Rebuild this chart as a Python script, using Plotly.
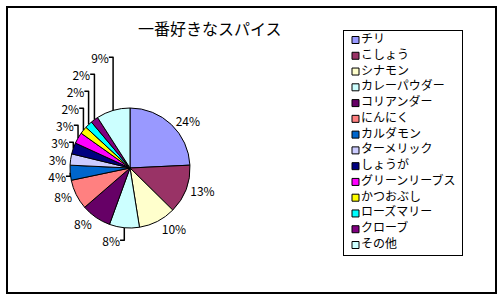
import plotly.graph_objects as go

labels = ["チリ", "こしょう", "シナモン", "カレーパウダー", "コリアンダー", "にんにく",
          "カルダモン", "ターメリック", "しょうが", "グリーンリーブス", "かつおぶし",
          "ローズマリー", "クローブ", "その他"]
values = [24, 13, 10, 8, 8, 8, 4, 3, 3, 3, 2, 2, 2, 9]
colors = ["#9999FF", "#993366", "#FFFFCC", "#CCFFFF", "#660066", "#FF8080",
          "#0066CC", "#CCCCFF", "#000080", "#FF00FF", "#FFFF00", "#00FFFF",
          "#800080", "#CCFFFF"]
title_text = "一番好きなスパイス"

W, H = 503, 300
FONT = "Noto Sans CJK JP"

fig = go.Figure()

fig.add_trace(go.Pie(
    labels=labels, values=values, sort=False, direction="clockwise", rotation=0,
    marker=dict(colors=colors, line=dict(color="black", width=1)),
    texttemplate="%{value}%", textposition="outside",
    textfont=dict(family=FONT, size=12, color="black"),
    domain=dict(x=[70 / W, 190 / W], y=[72 / H, 192 / H]),
    showlegend=False, hoverinfo="label+percent",
))

# legend drawn as a scatter in its own axes box
n = len(labels)
fig.add_trace(go.Scatter(
    x=[11.5] * n, y=list(range(n)), mode="markers+text",
    marker=dict(symbol="square", size=7, color=colors, line=dict(color="black", width=1)),
    text=labels, textposition="middle right",
    textfont=dict(family=FONT, size=12, color="black"),
    xaxis="x2", yaxis="y2", showlegend=False, hoverinfo="skip", cliponaxis=False,
))

axis_common = dict(showgrid=False, zeroline=False, showticklabels=False, ticks="",
                   showline=True, mirror=True, linecolor="black", linewidth=1, fixedrange=True)
fig.update_layout(
    width=W, height=H, margin=dict(l=0, r=0, t=0, b=0),
    paper_bgcolor="white", plot_bgcolor="white",
    xaxis2=dict(domain=[344 / W, 462 / W], range=[0, 118], anchor="y2", **axis_common),
    yaxis2=dict(domain=[45 / H, 269 / H], range=[13.634, -0.571], anchor="x2", **axis_common),
    annotations=[dict(text=title_text, x=210 / W, y=1 - 28 / H, xref="paper", yref="paper",
                      xanchor="center", yanchor="middle", showarrow=False,
                      font=dict(family=FONT, size=16, color="black"))],
    shapes=[dict(type="rect", xref="paper", yref="paper",
                 x0=7 / W, x1=496 / W, y0=1 - 293 / H, y1=1 - 7 / H,
                 line=dict(color="black", width=2))],
)

fig.write_html("out.html")
